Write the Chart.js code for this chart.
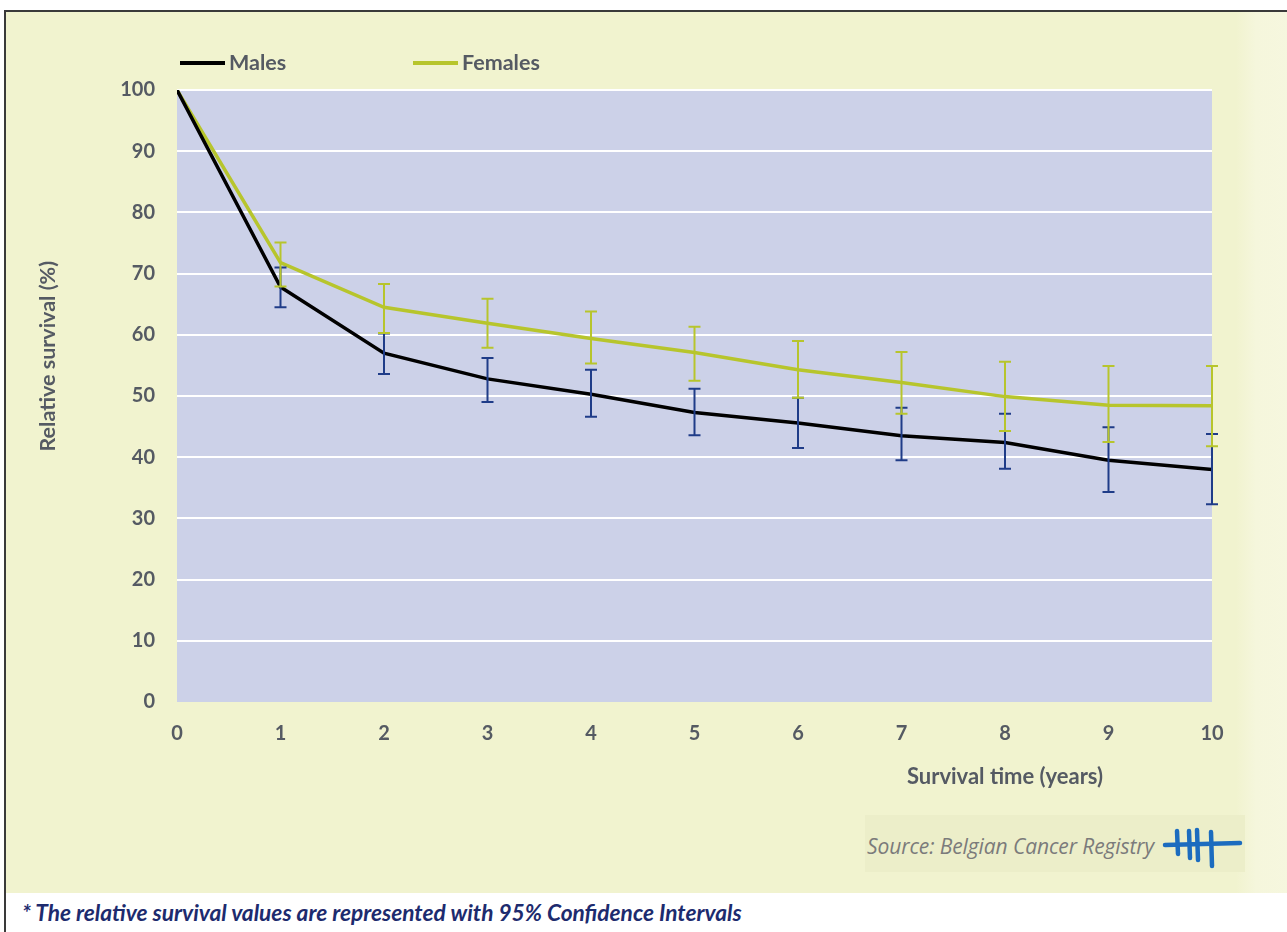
<!DOCTYPE html>
<html>
<head>
<meta charset="utf-8">
<script src="https://cdn.jsdelivr.net/npm/chart.js@4.4.1/dist/chart.umd.min.js"></script>
<style>
  html, body { margin: 0; padding: 0; background: #ffffff; width: 1287px; height: 932px; overflow: hidden; }
  #frame { position: absolute; left: 4px; top: 10px; width: 1290px; height: 930px; border-left: 2px solid #3a3a3a; border-top: 2px solid #3a3a3a; }
  #yellow { position: absolute; left: 0; top: 0; width: 1290px; height: 881px;
    background: linear-gradient(to right, #f1f3cf 0px, #f1f3cf 1230px, #f5f6dc 1250px, #f6f7df 1290px); }
  #srcbox { position: absolute; left: 865px; top: 815px; width: 380px; height: 57px; background: #eceec9; }
  #src { position: absolute; left: 867px; top: 832px; font-family: "Open Sans", sans-serif; font-style: italic; font-size: 21px; color: #7b7b7b; white-space: nowrap; letter-spacing: -0.1px; }
  #logo { position: absolute; left: 1160px; top: 826px; }
  #note { position: absolute; left: 22px; top: 899px; font-family: Lato, sans-serif; font-style: italic; font-weight: bold; font-size: 22.7px; color: #1d2b6e; white-space: nowrap; }
  #c { position: absolute; left: 0; top: 0; }
</style>
</head>
<body>
<div id="frame"><div id="yellow"></div></div>
<div id="srcbox"></div>
<div id="src">Source: Belgian Cancer Registry</div>
<svg id="logo" width="90" height="46" viewBox="0 0 90 46">
  <g stroke="#1c6cbf" stroke-width="4.5" stroke-linecap="round" fill="none">
    <path d="M5 19 L80 17"/>
    <path d="M17 5 L18 28"/>
    <path d="M29 5 L30 32"/>
    <path d="M37 4 L38 34"/>
    <path d="M51 6 L52 40"/>
  </g>
</svg>
<div id="note">* The relative survival values are represented with 95% Confidence Intervals</div>
<canvas id="c" width="1287" height="932"></canvas>
<script>
const years = [0, 1, 2, 3, 4, 5, 6, 7, 8, 9, 10];
const yTicks = [0, 10, 20, 30, 40, 50, 60, 70, 80, 90, 100];
const males = [100, 67.8, 57.0, 52.8, 50.3, 47.3, 45.6, 43.5, 42.4, 39.5, 38.0];
const malesLow = [null, 64.5, 53.6, 49.0, 46.6, 43.6, 41.5, 39.5, 38.1, 34.3, 32.3];
const malesUp = [null, 71.0, 60.2, 56.2, 54.3, 51.2, 49.7, 48.1, 47.1, 44.9, 43.8];
const females = [100, 71.8, 64.5, 61.9, 59.4, 57.1, 54.3, 52.2, 49.9, 48.5, 48.4];
const femalesLow = [null, 67.9, 60.3, 57.9, 55.3, 52.5, 49.7, 47.1, 44.3, 42.5, 41.8];
const femalesUp = [null, 75.1, 68.3, 65.9, 63.8, 61.3, 59.0, 57.2, 55.6, 54.9, 54.9];

const textColor = '#555a63';
const femaleColor = '#b7c52c';
const maleBarColor = '#1f3c88';
const font = 'Lato, sans-serif';

const toPoints = (vals) => years.map((x, i) => ({ x: x, y: vals[i] }));

const bgPlugin = {
  id: 'plotBg',
  beforeDraw(chart) {
    const a = chart.chartArea, ctx = chart.ctx;
    ctx.save();
    ctx.fillStyle = '#ccd1e8';
    ctx.fillRect(a.left, a.top, a.right - a.left, a.bottom - a.top);
    ctx.restore();
  }
};

function drawBars(chart, low, up, color) {
  const ctx = chart.ctx, xs = chart.scales.x, ys = chart.scales.y;
  ctx.save();
  ctx.strokeStyle = color;
  ctx.lineWidth = 2;
  years.forEach((yr, i) => {
    if (low[i] == null) return;
    const px = xs.getPixelForValue(yr);
    const p1 = ys.getPixelForValue(low[i]);
    const p2 = ys.getPixelForValue(up[i]);
    ctx.beginPath();
    ctx.moveTo(px, p1); ctx.lineTo(px, p2);
    ctx.moveTo(px - 6, p1); ctx.lineTo(px + 6, p1);
    ctx.moveTo(px - 6, p2); ctx.lineTo(px + 6, p2);
    ctx.stroke();
  });
  ctx.restore();
}

const errPlugin = {
  id: 'errBars',
  afterDatasetsDraw(chart) {
    drawBars(chart, malesLow, malesUp, maleBarColor);
    drawBars(chart, femalesLow, femalesUp, femaleColor);
  }
};

const labelPlugin = {
  id: 'labels',
  afterDraw(chart) {
    const ctx = chart.ctx, xs = chart.scales.x, ys = chart.scales.y;
    ctx.save();
    const items = [
      { x0: 180, x1: 225, color: chart.data.datasets[0].borderColor, text: chart.data.datasets[0].label },
      { x0: 413, x1: 458, color: chart.data.datasets[1].borderColor, text: chart.data.datasets[1].label }
    ];
    ctx.font = 'bold 21.5px ' + font;
    ctx.textBaseline = 'middle';
    ctx.textAlign = 'left';
    items.forEach(it => {
      ctx.strokeStyle = it.color; ctx.lineWidth = 4;
      ctx.beginPath(); ctx.moveTo(it.x0, 63); ctx.lineTo(it.x1, 63); ctx.stroke();
      ctx.fillStyle = textColor;
      ctx.fillText(it.text, it.x1 + 4, 63);
    });
    ctx.font = 'bold 22px ' + font;
    ctx.textAlign = 'center';
    ctx.fillText('Survival time (years)', xs.getPixelForValue(8), 777);
    ctx.font = 'bold 21.5px ' + font;
    ctx.translate(48, ys.getPixelForValue(56.5));
    ctx.rotate(-Math.PI / 2);
    ctx.fillText('Relative survival (%)', 0, 0);
    ctx.restore();
  }
};

new Chart(document.getElementById('c'), {
  type: 'line',
  data: {
    datasets: [
      { label: 'Males', data: toPoints(males), borderColor: '#000000', borderWidth: 3.5, pointRadius: 0, tension: 0, fill: false },
      { label: 'Females', data: toPoints(females), borderColor: femaleColor, borderWidth: 3.5, pointRadius: 0, tension: 0, fill: false }
    ]
  },
  options: {
    responsive: false,
    animation: false,
    events: [],
    layout: { padding: { left: 0, top: 90, right: 75, bottom: 150 } },
    plugins: { legend: { display: false }, tooltip: { enabled: false } },
    scales: {
      x: {
        type: 'linear', min: 0, max: 10,
        afterBuildTicks(s) { s.ticks = years.map(v => ({ value: v })); },
        afterFit(s) { s.height = 80; },
        grid: { display: false, drawTicks: false },
        border: { display: false },
        ticks: { color: textColor, font: { family: font, size: 20, weight: 'bold' }, padding: 20, maxRotation: 0, autoSkip: false }
      },
      y: {
        min: 0, max: 100,
        afterBuildTicks(s) { s.ticks = yTicks.map(v => ({ value: v })); },
        afterFit(s) { s.width = 177; },
        grid: { color: (c) => c.tick && c.tick.value === 0 ? 'rgba(0,0,0,0)' : '#ffffff', lineWidth: 2, drawTicks: false },
        border: { display: false },
        ticks: { color: textColor, font: { family: font, size: 20, weight: 'bold' }, padding: 22 }
      }
    }
  },
  plugins: [bgPlugin, errPlugin, labelPlugin]
});
</script>
</body>
</html>
